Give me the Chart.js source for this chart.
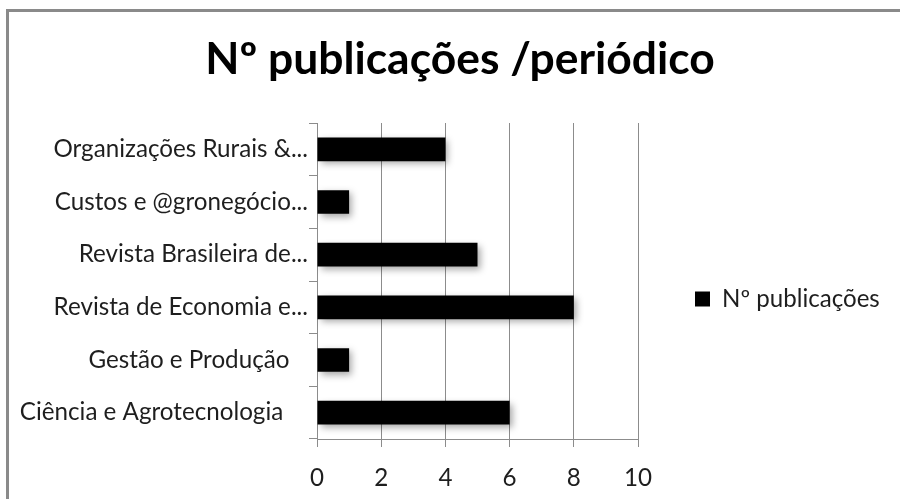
<!DOCTYPE html>
<html><head><meta charset="utf-8">
<script src="https://cdn.jsdelivr.net/npm/chart.js@4"></script>
<style>
html,body{margin:0;padding:0;background:#fff;overflow:hidden}
#wrap{position:relative;width:900px;height:499px}
#frame{position:absolute;left:6px;top:9px;width:1000px;height:1000px;border-top:3px solid #8a8a8a;border-left:3px solid #8a8a8a;pointer-events:none}
</style></head><body>
<div id="wrap"><canvas id="c" width="900" height="499"></canvas><div id="frame"></div></div>
<script>
// ---- data ----
const categories = [
  'Organizações Rurais &...',
  'Custos e @gronegócio...',
  'Revista Brasileira de...',
  'Revista de Economia e...',
  'Gestão e Produção   ',
  'Ciência e Agrotecnologia    '
];
const seriesName = 'Nº publicações';
const seriesValues = [4, 1, 5, 8, 1, 6];
const xTicks = [0, 2, 4, 6, 8, 10];
const chartTitle = 'Nº publicações /periódico';

// ---- styling / layout ----
const FAMILY = 'Lato, "Open Sans", sans-serif';
const GRID = '#8c8c8c';
const TEXT = '#1e1e1e';
const mctx = document.createElement('canvas').getContext('2d');
function tw(text, weight, size) { mctx.font = weight + ' ' + size + 'px ' + FAMILY; return mctx.measureText(text).width; }
const labelSize = +(20 * 255 / tw('Organizações Rurais &...', 'normal', 20)).toFixed(1);
const titleSize = +(40 * 510 / tw(chartTitle, 'bold', 40)).toFixed(1);
const legendSize = +(20 * 158 / tw(seriesName, 'normal', 20)).toFixed(1);

const AREA = { left: 317, right: 638, top: 123, bottom: 439 };
const TITLE_CX = 460;
const BOX = 15;
const LEG_PAD = 57;
const L = 4;
const R = 900 - 2 * TITLE_CX + L;
const LEGEND_W = 900 - R - AREA.right;

const titleLH = titleSize * 1.2;
const titleMid = 60;
const labelLH = labelSize * 1.2;
const legendShift = 2 * (299 - (AREA.top + AREA.bottom) / 2);

const shadowPlugin = {
  id: 'barShadow',
  beforeDatasetsDraw(chart) {
    const c = chart.ctx; c.save();
    c.shadowColor = 'rgba(0,0,0,0.35)'; c.shadowBlur = 7; c.shadowOffsetX = 3; c.shadowOffsetY = 3;
  },
  afterDatasetsDraw(chart) { chart.ctx.restore(); }
};
const legendWidthPlugin = {
  id: 'legendWidth',
  beforeLayout(chart) {
    const lg = chart.legend;
    if (lg && !lg.__fixed) {
      const fit = lg.fit;
      lg.fit = function () { fit.call(this); this.width = LEGEND_W; };
      lg.__fixed = true;
    }
  }
};

new Chart(document.getElementById('c'), {
  type: 'bar',
  data: {
    labels: categories,
    datasets: [{ label: seriesName, data: seriesValues, backgroundColor: '#000', borderWidth: 0,
      barPercentage: 0.45, categoryPercentage: 1 }]
  },
  options: {
    indexAxis: 'y',
    responsive: false,
    animation: false,
    layout: { padding: { left: L, right: R, top: 0, bottom: 0 } },
    plugins: {
      title: { display: true, text: chartTitle, color: '#000',
        font: { family: FAMILY, size: titleSize, weight: 'bold' },
        padding: { top: titleMid - titleLH / 2, bottom: AREA.top - titleMid - titleLH / 2 } },
      legend: { display: true, position: 'right', align: 'center', fullSize: false,
        title: { display: true, text: '', font: { size: 10, lineHeight: 1 }, padding: { top: (legendShift - 10) / 2, bottom: (legendShift - 10) / 2 } },
        labels: { boxWidth: BOX, boxHeight: BOX, padding: LEG_PAD, color: TEXT,
          font: { family: FAMILY, size: legendSize } } },
      tooltip: { enabled: false }
    },
    scales: {
      x: {
        type: 'linear', min: 0, max: 10,
        afterBuildTicks: s => { s.ticks = xTicks.map(v => ({ value: v })); },
        ticks: { color: TEXT, font: { family: FAMILY, size: labelSize }, padding: 478 - (AREA.bottom + 8) - labelLH / 2, maxRotation: 0 },
        grid: { color: GRID, tickLength: 8, lineWidth: 1 },
        border: { color: GRID },
        afterFit: s => { s.height = 499 - AREA.bottom; }
      },
      y: {
        type: 'category',
        ticks: { color: TEXT, font: { family: FAMILY, size: labelSize }, padding: 1, autoSkip: false },
        grid: { offset: true, drawOnChartArea: false, tickLength: 8, color: GRID },
        border: { color: GRID },
        afterFit: s => { s.width = AREA.left - L; }
      }
    }
  },
  plugins: [shadowPlugin, legendWidthPlugin]
});
</script>
</body></html>
